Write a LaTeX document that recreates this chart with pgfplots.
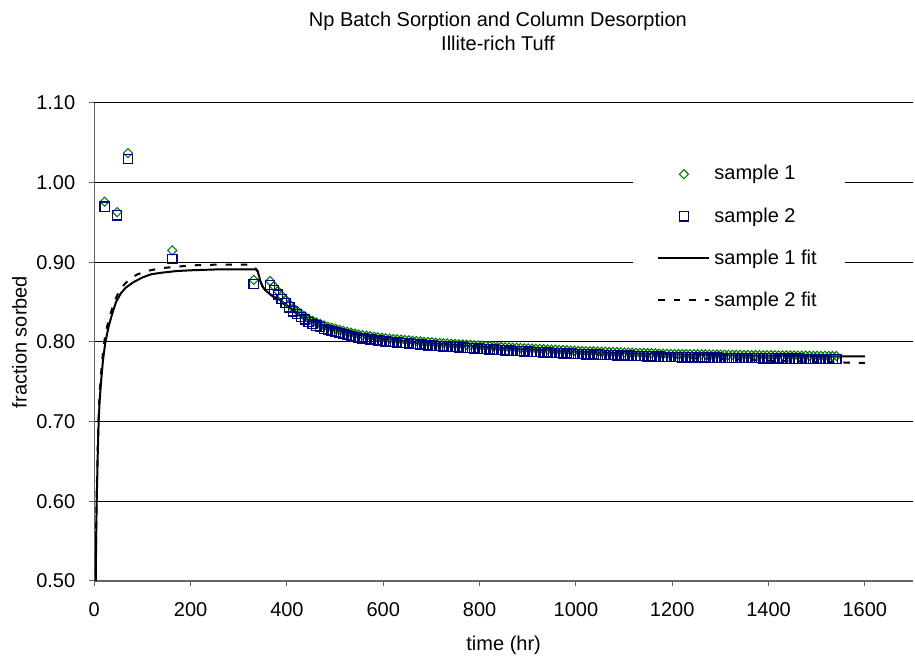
\documentclass[border=0pt]{standalone}
\usepackage{fontspec}
\setmainfont{Liberation Sans}
\usepackage{pgfplots}
\usepackage{pgfplotstable}
\pgfplotsset{compat=1.18}
\definecolor{sgreen}{RGB}{0,128,0}
\definecolor{snavy}{RGB}{0,0,128}

\pgfplotstableread{
t s1 s2
21.5 0.976 0.970
47.5 0.963 0.959
70 1.037 1.030
162 0.915 0.904
331 0.878 0.873
365 0.8765 0.8715
373 0.8703 0.8655
381 0.8641 0.8595
389 0.8584 0.8540
397 0.8531 0.8488
405 0.8478 0.8436
413 0.8425 0.8384
421 0.8391 0.8350
429 0.8357 0.8316
437 0.8323 0.8282
445 0.8289 0.8248
453 0.8265 0.8224
461 0.8246 0.8205
469 0.8227 0.8186
477 0.8207 0.8166
485 0.8190 0.8150
493 0.8178 0.8138
501 0.8165 0.8125
509 0.8152 0.8112
517 0.8140 0.8100
525 0.8128 0.8088
533 0.8116 0.8076
541 0.8105 0.8065
549 0.8093 0.8053
557 0.8085 0.8045
565 0.8079 0.8039
573 0.8072 0.8032
581 0.8066 0.8026
589 0.8059 0.8019
597 0.8052 0.8012
605 0.8047 0.8007
613 0.8043 0.8003
621 0.8038 0.7998
629 0.8034 0.7994
637 0.8030 0.7990
645 0.8025 0.7985
653 0.8021 0.7981
661 0.8016 0.7976
669 0.8012 0.7972
677 0.8008 0.7968
685 0.8003 0.7963
693 0.7999 0.7959
701 0.7995 0.7955
709 0.7991 0.7951
717 0.7988 0.7948
725 0.7985 0.7945
733 0.7982 0.7942
741 0.7979 0.7939
749 0.7975 0.7935
757 0.7972 0.7932
765 0.7969 0.7929
773 0.7966 0.7926
781 0.7963 0.7923
789 0.7959 0.7919
797 0.7956 0.7916
805 0.7953 0.7913
813 0.7950 0.7910
821 0.7947 0.7907
829 0.7943 0.7903
837 0.7940 0.7900
845 0.7937 0.7897
853 0.7934 0.7894
861 0.7932 0.7892
869 0.7929 0.7889
877 0.7927 0.7887
885 0.7925 0.7885
893 0.7922 0.7882
901 0.7920 0.7880
909 0.7917 0.7877
917 0.7915 0.7875
925 0.7913 0.7873
933 0.7910 0.7870
941 0.7908 0.7868
949 0.7905 0.7865
957 0.7903 0.7863
965 0.7901 0.7861
973 0.7898 0.7858
981 0.7896 0.7856
989 0.7893 0.7853
997 0.7891 0.7851
1005 0.7889 0.7849
1013 0.7887 0.7847
1021 0.7886 0.7846
1029 0.7884 0.7844
1037 0.7883 0.7843
1045 0.7881 0.7841
1053 0.7879 0.7839
1061 0.7878 0.7838
1069 0.7876 0.7836
1077 0.7875 0.7835
1085 0.7873 0.7833
1093 0.7871 0.7831
1101 0.7870 0.7830
1109 0.7868 0.7828
1117 0.7867 0.7827
1125 0.7865 0.7825
1133 0.7863 0.7823
1141 0.7862 0.7822
1149 0.7860 0.7820
1157 0.7859 0.7819
1165 0.7857 0.7817
1173 0.7855 0.7815
1181 0.7854 0.7814
1189 0.7852 0.7812
1197 0.7851 0.7811
1205 0.7850 0.7810
1213 0.7849 0.7809
1221 0.7848 0.7808
1229 0.7848 0.7808
1237 0.7847 0.7807
1245 0.7847 0.7807
1253 0.7846 0.7806
1261 0.7845 0.7805
1269 0.7845 0.7805
1277 0.7844 0.7804
1285 0.7843 0.7803
1293 0.7843 0.7803
1301 0.7842 0.7802
1309 0.7841 0.7801
1317 0.7841 0.7801
1325 0.7840 0.7800
1333 0.7840 0.7800
1341 0.7839 0.7799
1349 0.7838 0.7798
1357 0.7838 0.7798
1365 0.7837 0.7797
1373 0.7837 0.7797
1381 0.7836 0.7796
1389 0.7835 0.7795
1397 0.7835 0.7795
1405 0.7834 0.7794
1413 0.7834 0.7794
1421 0.7833 0.7793
1429 0.7832 0.7792
1437 0.7832 0.7792
1445 0.7831 0.7791
1453 0.7831 0.7791
1461 0.7830 0.7790
1469 0.7829 0.7789
1477 0.7829 0.7789
1485 0.7828 0.7788
1493 0.7827 0.7787
1501 0.7827 0.7787
1509 0.7826 0.7786
1517 0.7826 0.7786
1525 0.7825 0.7785
1533 0.7825 0.7785
1541 0.7824 0.7784
}\samples

\begin{document}
\begin{tikzpicture}
\useasboundingbox (0pt,0pt) rectangle (457.5pt,329pt);
\begin{axis}[
  at={(47.15pt,38.5pt)}, anchor=south west,
  scale only axis, width=409.35pt, height=239pt,
  xmin=0, xmax=1700, ymin=0.5, ymax=1.1,
  xtick={0,200,400,600,800,1000,1200,1400,1600},
  ytick={0.5,0.6,0.7,0.8,0.9,1.0,1.1},
  axis x line*=bottom, axis y line*=left,
  axis line style={black!60, line width=0.6pt, -},
  tick align=outside, major tick length=2.5pt,
  tick style={black!60, line width=0.5pt},
  ymajorgrids, grid style={black, line width=0.5pt},
  /pgf/number format/assume math mode=true,
  xticklabel style={/pgf/number format/1000 sep={}, yshift=-4.5pt},
  yticklabel style={/pgf/number format/.cd, fixed, fixed zerofill, precision=2, /tikz/xshift=-3.5pt},
  xlabel={time (hr)}, ylabel={fraction sorbed},
  title={Np Batch Sorption and Column Desorption\\Illite-rich Tuff},
  title style={at={(axis description cs:0.493,1.1245)}, anchor=center, align=center},
  xlabel style={at={(axis description cs:0.5,-0.134)}, anchor=center},
  ylabel style={at={(axis description cs:-0.0914,0.5)}, anchor=center},
  legend style={at={(axis description cs:0.658,0.912)}, anchor=north west,
    draw=none, fill=white, inner xsep=12pt, inner ysep=8pt, row sep=8.3pt},
  legend cell align=left,
  legend image code/.code={\draw[mark repeat=2,mark phase=2,#1] plot coordinates {(0pt,0pt) (12.75pt,0pt) (25.5pt,0pt)};},
]
\addplot[black, line width=1pt, dash pattern=on 3.2pt off 4.5pt, forget plot] coordinates {
(0,0.45)(1.5,0.48)(3,0.51)(4,0.57)(5,0.61)(7,0.665)(9,0.71)(11,0.735)(14,0.76)(18,0.787)(23,0.81)(30,0.828)(40,0.848)(50,0.862)(62,0.872)(75,0.88)(90,0.885)(108,0.889)(125,0.891)(145,0.893)(180,0.895)(215,0.8965)(250,0.897)(300,0.897)(326,0.897)(334,0.893)(339,0.889)(342,0.883)(345,0.876)(349,0.870)(355,0.865)(365,0.860)(375,0.855)(385,0.851)(400,0.845)(413,0.839)(430,0.832)(450,0.825)(480,0.818)(520,0.812)(560,0.8075)(600,0.804)(650,0.800)(700,0.797)(800,0.7925)(900,0.789)(1000,0.7855)(1100,0.783)(1200,0.7805)(1300,0.7785)(1400,0.7765)(1500,0.775)(1600,0.7737)
};
\addplot[black, line width=1pt, forget plot] coordinates {
(0,0.44)(1.5,0.48)(3,0.50)(4,0.56)(5,0.60)(7,0.655)(9,0.70)(11,0.725)(14,0.75)(18,0.777)(23,0.80)(30,0.82)(37,0.835)(45,0.85)(55,0.861)(65,0.868)(81,0.875)(100,0.881)(118,0.885)(140,0.887)(170,0.889)(200,0.890)(250,0.891)(300,0.891)(336,0.891)(339,0.889)(342,0.883)(345,0.876)(349,0.870)(355,0.865)(365,0.860)(375,0.856)(385,0.853)(400,0.846)(413,0.840)(430,0.833)(450,0.826)(480,0.8185)(520,0.8125)(560,0.808)(600,0.8045)(650,0.801)(700,0.7985)(800,0.7945)(900,0.791)(1000,0.788)(1100,0.786)(1200,0.7845)(1300,0.7835)(1400,0.7828)(1500,0.7822)(1600,0.7818)
};
\addplot[only marks, mark=square, mark size=1.6pt, mark options={rotate=45, draw=sgreen, line width=0.55pt}] table[x=t, y=s1] {\samples};
\addlegendentry{sample 1}
\addplot[only marks, mark=square, mark size=2.3pt, mark options={draw=snavy, line width=0.65pt}] table[x=t, y=s2] {\samples};
\addlegendentry{sample 2}
\addlegendimage{black, line width=1pt}
\addlegendentry{sample 1 fit}
\addlegendimage{black, line width=1pt, dash pattern=on 3.2pt off 4.5pt}
\addlegendentry{sample 2 fit}
\end{axis}
\end{tikzpicture}
\end{document}
